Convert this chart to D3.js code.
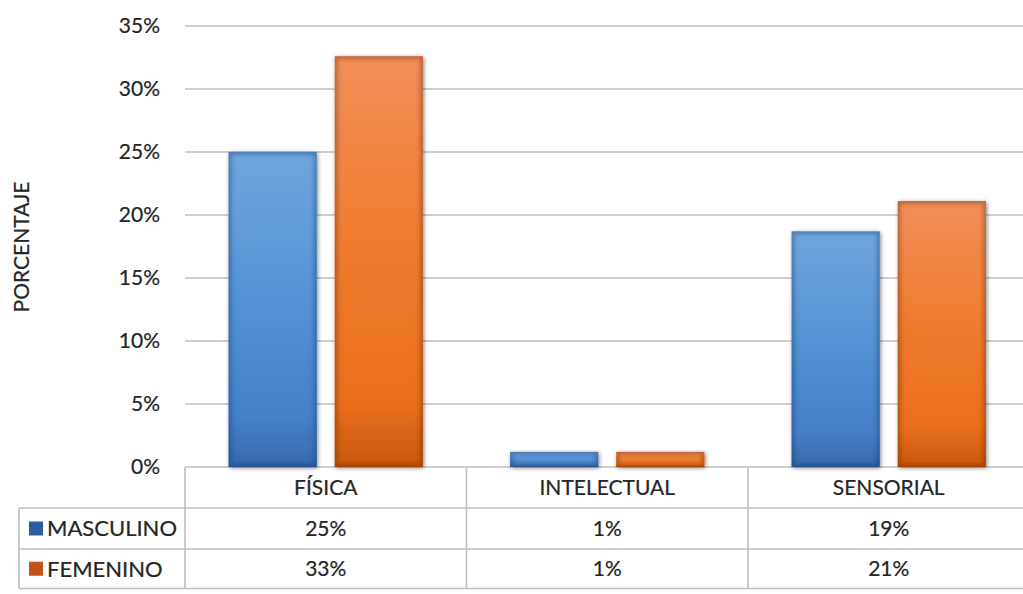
<!DOCTYPE html>
<html>
<head>
<meta charset="utf-8">
<script src="https://cdn.jsdelivr.net/npm/d3@7/dist/d3.min.js"></script>
<style>
  html, body { margin: 0; padding: 0; background: #fff; }
  svg { display: block; font-family: Lato, "Open Sans", sans-serif; }
  text { stroke: #262626; stroke-width: 0.22px; }
</style>
</head>
<body>
<svg id="chart" width="1023" height="594"></svg>
<script>
// Discapacidad por tipo y sexo (porcentaje)
const categories = ["FÍSICA", "INTELECTUAL", "SENSORIAL"];
const seriesNames = ["MASCULINO", "FEMENINO"];
const masculino = [0.250, 0.012, 0.187];
const femenino  = [0.326, 0.012, 0.211];
const yTicks = [0, 0.05, 0.10, 0.15, 0.20, 0.25, 0.30, 0.35];
const yTitle = "PORCENTAJE";

const seriesValues = [masculino, femenino];
const pct = d3.format(".0%");

const svg = d3.select("#chart");

const plot = { left: 185, right: 1029.5, top: 26, bottom: 467 };
const rowH = [41, 41, 39.5];
const legendLeft = 19;

const y = d3.scaleLinear().domain([0, 0.35]).range([plot.bottom, plot.top]);
const x0 = d3.scaleBand().domain(categories).range([plot.left, plot.right])
  .paddingInner(0.31).paddingOuter(0.155);
const xCol = d3.scaleBand().domain(categories).range([plot.left, plot.right]);
const x1 = d3.scaleBand().domain(seriesNames).range([0, x0.bandwidth()]).paddingInner(0.17);

// ---- gradients and bar effects
const defs = svg.append("defs");
const palettes = {
  MASCULINO: [["0%", "#6fa6de"], ["45%", "#5593d6"], ["85%", "#4580c8"], ["100%", "#3568aa"]],
  FEMENINO:  [["0%", "#f2905a"], ["45%", "#ef7c30"], ["85%", "#e96e1e"], ["100%", "#c85810"]]
};
const rimColor = { MASCULINO: "#123a70", FEMENINO: "#7a2a00" };
const gradId = s => "grad-" + s;
seriesNames.forEach(s => {
  const g = defs.append("linearGradient").attr("id", gradId(s))
    .attr("x1", 0).attr("y1", 0).attr("x2", 0).attr("y2", 1);
  palettes[s].forEach(([o, c]) => g.append("stop").attr("offset", o).attr("stop-color", c));

  // bevel-like darker rim inside each bar plus a soft outer shadow
  const f = defs.append("filter").attr("id", "fx-" + s)
    .attr("x", "-20%").attr("y", "-50%").attr("width", "140%").attr("height", "200%");
  f.append("feGaussianBlur").attr("in", "SourceAlpha").attr("stdDeviation", 2).attr("result", "ob");
  f.append("feOffset").attr("in", "ob").attr("dx", 0.5).attr("dy", 1).attr("result", "obo");
  f.append("feComponentTransfer").attr("in", "obo").attr("result", "outer")
    .append("feFuncA").attr("type", "linear").attr("slope", 0.5);
  f.append("feMorphology").attr("in", "SourceAlpha").attr("operator", "erode").attr("radius", 2.5).attr("result", "er");
  f.append("feGaussianBlur").attr("in", "er").attr("stdDeviation", 2).attr("result", "erb");
  f.append("feComposite").attr("in", "SourceAlpha").attr("in2", "erb").attr("operator", "out").attr("result", "rimA");
  f.append("feFlood").attr("flood-color", rimColor[s]).attr("flood-opacity", 0.55).attr("result", "col");
  f.append("feComposite").attr("in", "col").attr("in2", "rimA").attr("operator", "in").attr("result", "rim");
  const fm = f.append("feMerge");
  fm.append("feMergeNode").attr("in", "outer");
  fm.append("feMergeNode").attr("in", "SourceGraphic");
  fm.append("feMergeNode").attr("in", "rim");
});

const gridColor = "#bfbfbf";
const textColor = "#262626";

// ---- gridlines
svg.append("g").selectAll("line").data(yTicks).join("line")
  .attr("x1", plot.left).attr("x2", plot.right)
  .attr("y1", d => y(d)).attr("y2", d => y(d))
  .attr("stroke", gridColor).attr("stroke-width", 1.6);

// ---- y axis labels
svg.append("g").selectAll("text").data(yTicks).join("text")
  .attr("x", 160).attr("y", d => y(d)).attr("dy", "0.35em")
  .attr("text-anchor", "end").attr("font-size", 21).attr("fill", textColor)
  .text(d => pct(d));

svg.append("text")
  .attr("transform", `translate(29,247) rotate(-90)`)
  .attr("text-anchor", "middle").attr("font-size", 21).attr("fill", textColor)
  .text(yTitle);

// ---- bars
const rows = categories.map((c, i) => ({ c, vals: seriesNames.map((s, k) => ({ s, v: seriesValues[k][i] })) }));
svg.append("g").selectAll("g").data(rows).join("g")
  .attr("transform", d => `translate(${x0(d.c)},0)`)
  .selectAll("rect").data(d => d.vals).join("rect")
  .attr("x", d => x1(d.s)).attr("width", x1.bandwidth())
  .attr("y", d => y(d.v)).attr("height", d => y(0) - y(d.v))
  .attr("fill", d => `url(#${gradId(d.s)})`)
  .attr("filter", d => `url(#fx-${d.s})`);

// ---- data table
const t = svg.append("g").attr("stroke", gridColor).attr("stroke-width", 1.6).attr("fill", "none");
const r1 = plot.bottom + rowH[0], r2 = r1 + rowH[1], r3 = r2 + rowH[2];
xCol.domain().forEach(c => {
  t.append("line").attr("x1", xCol(c)).attr("x2", xCol(c)).attr("y1", plot.bottom).attr("y2", r3);
});
t.append("line").attr("x1", plot.right).attr("x2", plot.right).attr("y1", plot.bottom).attr("y2", r3);
t.append("line").attr("x1", legendLeft).attr("x2", legendLeft).attr("y1", r1).attr("y2", r3);
[r1, r2, r3].forEach(yy => t.append("line").attr("x1", legendLeft).attr("x2", plot.right).attr("y1", yy).attr("y2", yy));

// header row
svg.append("g").selectAll("text").data(categories).join("text")
  .attr("x", d => xCol(d) + xCol.bandwidth() / 2).attr("y", plot.bottom + rowH[0] / 2).attr("dy", "0.36em")
  .attr("text-anchor", "middle").attr("font-size", 21).attr("fill", textColor)
  .text(d => d);

// value rows with legend keys
const rowTops = [r1, r2];
seriesNames.forEach((s, k) => {
  const cy = rowTops[k] + rowH[k + 1] / 2;
  const g = svg.append("g");
  g.selectAll("text").data(categories).join("text")
    .attr("x", d => xCol(d) + xCol.bandwidth() / 2).attr("y", cy).attr("dy", "0.36em")
    .attr("text-anchor", "middle").attr("font-size", 21).attr("fill", textColor)
    .text((d, i) => pct(seriesValues[k][i]));
  g.append("rect").attr("x", 29).attr("y", cy - 7).attr("width", 14).attr("height", 14)
    .attr("fill", s === "MASCULINO" ? "#2a5da0" : "#c2521a");
  g.append("text").attr("x", 47).attr("y", cy).attr("dy", "0.36em")
    .attr("font-size", 22).attr("fill", textColor).text(s);
});
</script>
</body>
</html>
